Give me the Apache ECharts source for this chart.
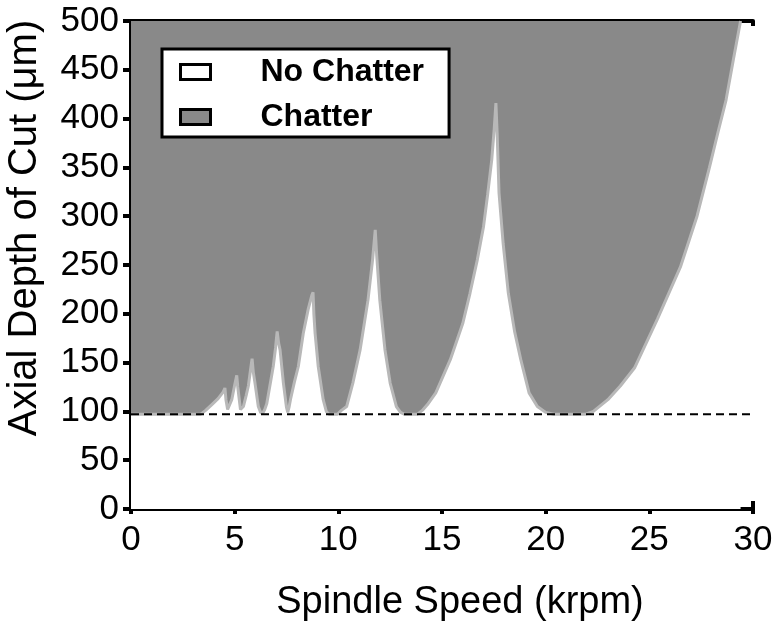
<!DOCTYPE html>
<html>
<head>
<meta charset="utf-8">
<script src="https://cdn.jsdelivr.net/npm/echarts@6/dist/echarts.min.js"></script>
<style>
html,body{margin:0;padding:0;background:#fff;}
#chart{width:774px;height:634px;}
</style>
</head>
<body>
<div id="chart"></div>
<script>
// Stability boundary: spindle speed (krpm) and axial depth limit (um)
var speedKrpm = [0, 3.35, 3.6, 3.9, 4.2, 4.45, 4.53, 4.58, 4.66, 4.75, 4.86, 5.0, 5.1, 5.15, 5.2, 5.28, 5.35, 5.42, 5.55, 5.66, 5.78, 5.84, 5.9, 5.98, 6.14, 6.25, 6.35, 6.45, 6.55, 6.86, 6.97, 7.05, 7.12, 7.19, 7.35, 7.5, 7.56, 7.62, 7.7, 7.88, 8.07, 8.31, 8.55, 8.72, 8.78, 8.82, 8.88, 9.03, 9.27, 9.42, 9.55, 9.95, 10.15, 10.4, 10.7, 11.05, 11.43, 11.65, 11.78, 11.85, 12.0, 12.25, 12.5, 12.8, 13.0, 13.2, 13.8, 14.05, 14.3, 14.7, 15.4, 16.0, 16.35, 16.7, 17.0, 17.2, 17.4, 17.52, 17.6, 17.66, 17.75, 17.95, 18.2, 18.5, 18.8, 19.2, 19.6, 20.0, 20.4, 21.9, 22.3, 23.0, 23.6, 24.3, 25.4, 26.5, 27.3, 27.9, 28.3, 28.7, 29.05, 29.4];
var depthLimit = [97, 97, 101, 107, 113, 120, 124, 112, 102, 104, 112, 127, 137, 125, 116, 102, 100, 105, 116, 126, 145, 154, 140, 129, 105, 99, 98, 102, 108, 146, 165, 182, 170, 163, 129, 104, 99, 104, 113, 130, 146, 180, 205, 219, 222, 200, 180, 146, 112, 100, 97, 97, 101, 105, 129, 163, 214, 255, 286, 260, 214, 163, 129, 105, 99, 97, 97, 101, 107, 119, 153, 190, 221, 255, 289, 322, 358, 390, 416, 385, 324, 272, 221, 182, 153, 119, 105, 99, 97, 97, 100, 112, 126, 145, 195, 248, 300, 350, 385, 419, 460, 500];
var absoluteLimit = 97;
var xTicks = [0, 5, 10, 15, 20, 25, 30];
var yTicks = [0, 50, 100, 150, 200, 250, 300, 350, 400, 450, 500];

var boundary = speedKrpm.map(function (s, i) { return [s, depthLimit[i]]; });
var limitLine = [[xTicks[0], absoluteLimit], [xTicks[xTicks.length - 1], absoluteLimit]];

var FONT = '"Liberation Sans", Arial, Helvetica, sans-serif';
var GRAY = '#898989';
var chart = echarts.init(document.getElementById('chart'), null, { renderer: 'canvas' });

var axisLine = { show: true, lineStyle: { color: '#000', width: 4 } };
var tickStyle = { color: '#000', width: 4 };

chart.setOption({
  animation: false,
  backgroundColor: '#fff',
  grid: { left: 131, right: 21, top: 21, bottom: 125, containLabel: false, outerBoundsMode: 'none' },
  legend: {
    show: true,
    left: 162,
    top: 49,
    orient: 'vertical',
    backgroundColor: '#fff',
    borderColor: '#000',
    borderWidth: 3,
    borderRadius: 0,
    padding: [6, 25, 3, 17],
    itemGap: 11,
    itemWidth: 30,
    itemHeight: 15,
    selectedMode: false,
    textStyle: { fontFamily: FONT, fontSize: 32, fontWeight: 'bold', color: '#000', lineHeight: 34, padding: [0, 0, 0, 45] },
    data: [
      { name: 'No Chatter', icon: 'rect', itemStyle: { color: '#fff', borderColor: '#000', borderWidth: 3 } },
      { name: 'Chatter', icon: 'rect', itemStyle: { color: GRAY, borderColor: '#000', borderWidth: 3 } }
    ]
  },
  xAxis: [
    {
      type: 'value', position: 'bottom', min: 0, max: 30, interval: 5,
      name: 'Spindle Speed (krpm)', nameLocation: 'middle', nameGap: 75,
      nameTextStyle: { fontFamily: FONT, fontSize: 38, color: '#000', padding: [0, 0, 0, 36] },
      axisLine: axisLine,
      axisTick: { show: true, inside: false, length: 5, lineStyle: tickStyle },
      axisLabel: { fontFamily: FONT, fontSize: 35, color: '#000', margin: 14 },
      splitLine: { show: false }
    },
    {
      type: 'value', position: 'bottom', min: 0, max: 30, interval: 5,
      axisLine: axisLine,
      axisTick: { show: true, inside: true, length: 8, lineStyle: tickStyle },
      axisLabel: { show: false }, splitLine: { show: false }
    },
    {
      type: 'value', position: 'top', min: 0, max: 30, interval: 5,
      axisLine: axisLine,
      axisTick: { show: true, inside: true, length: 5, lineStyle: tickStyle },
      axisLabel: { show: false }, splitLine: { show: false }
    }
  ],
  yAxis: [
    {
      type: 'value', position: 'left', min: 0, max: 500, interval: 50,
      name: 'Axial Depth of Cut (\u03bcm)', nameLocation: 'middle', nameGap: 86, nameRotate: 90,
      nameTextStyle: { fontFamily: FONT, fontSize: 40, color: '#000', padding: [0, 0, 0, 74] },
      axisLine: axisLine,
      axisTick: { show: true, inside: true, length: 8, lineStyle: tickStyle },
      axisLabel: { fontFamily: FONT, fontSize: 35, color: '#000', margin: 12 },
      splitLine: { show: false }
    },
    {
      type: 'value', position: 'right', min: 0, max: 500, interval: 50,
      axisLine: axisLine,
      axisTick: { show: true, inside: true, length: 8, lineStyle: tickStyle },
      axisLabel: { show: false }, splitLine: { show: false }
    }
  ],
  series: [
    {
      name: 'No Chatter', type: 'line', xAxisIndex: 0, yAxisIndex: 0,
      data: boundary, showSymbol: false, symbol: 'none', silent: true, clip: true,
      lineStyle: { width: 0, color: '#fff' },
      itemStyle: { color: '#fff' },
      areaStyle: { color: '#fff', origin: 'start', opacity: 1 },
      z: 1
    },
    {
      name: 'Chatter', type: 'line', xAxisIndex: 0, yAxisIndex: 0,
      data: boundary, showSymbol: false, symbol: 'none', silent: true, clip: true,
      lineStyle: { width: 3, color: '#b8b8b8' },
      itemStyle: { color: GRAY },
      areaStyle: { color: GRAY, origin: 'end', opacity: 1 },
      z: 2
    },
    {
      name: 'Stability limit', type: 'line', xAxisIndex: 0, yAxisIndex: 0,
      data: limitLine, showSymbol: false, symbol: 'none', silent: true,
      lineStyle: { width: 2, color: '#000', type: [8, 5] },
      z: 3
    }
  ]
});
</script>
</body>
</html>
